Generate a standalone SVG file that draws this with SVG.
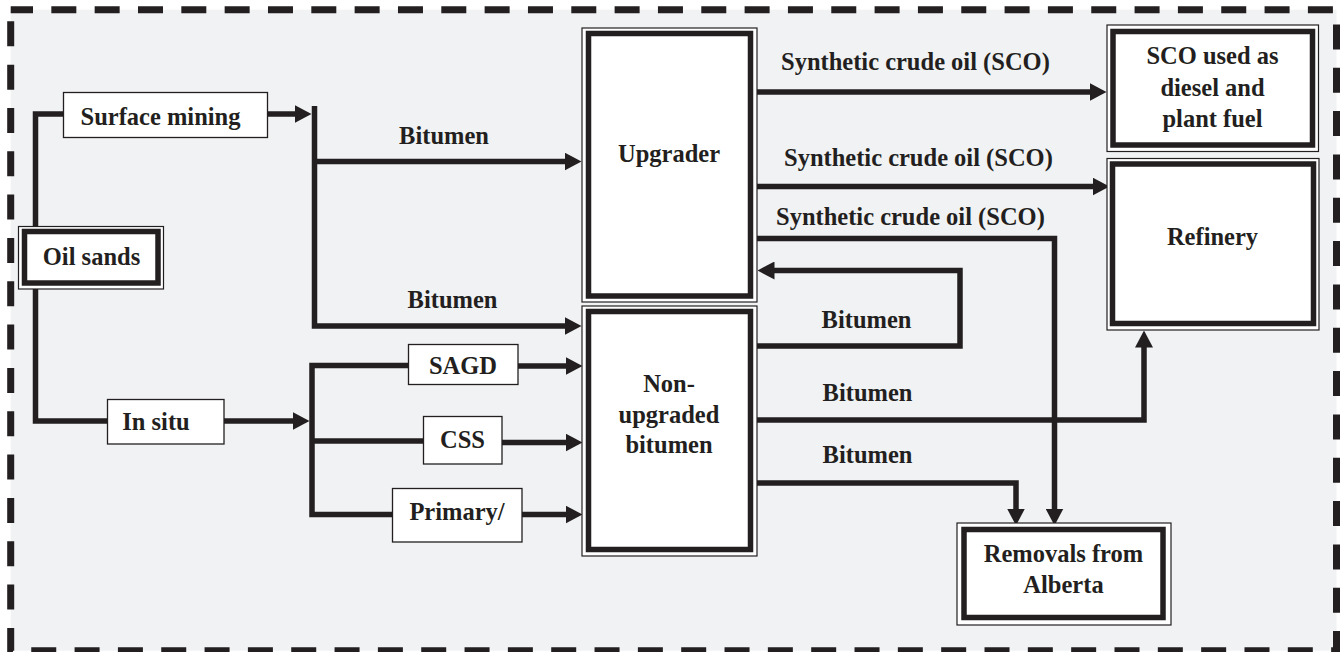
<svg xmlns="http://www.w3.org/2000/svg" width="1341" height="652" viewBox="0 0 1341 652">
<defs>
<marker id="ah" viewBox="0 0 17 18" markerWidth="17" markerHeight="18" refX="0.5" refY="9" orient="auto" markerUnits="userSpaceOnUse">
<path d="M0,0 L17,9 L0,18 z" fill="#231f20"/>
</marker>
<style>
.frame{fill:#f1f2f4;stroke:#231f20;stroke-width:7;stroke-dasharray:25 18.33;stroke-dashoffset:2.7}
.c{fill:none;stroke:#231f20;stroke-width:5.5;stroke-linejoin:miter;stroke-linecap:butt}
.a{marker-end:url(#ah)}
.box{fill:#fff;stroke:#231f20;stroke-width:1.3}
.outer{fill:#fff;stroke:#231f20;stroke-width:1.2}
.inner{fill:#fff;stroke:#231f20;stroke-width:5.5}
text{font-family:"Liberation Serif","Times New Roman",serif;font-weight:bold;font-size:24.5px;fill:#231f20}
.m{text-anchor:middle}
</style>
</defs>
<rect class="frame" x="10.7" y="9.7" width="1325.8" height="641"/>

<g id="connectors">
<path class="c" d="M63,114 H35.5 V421 H107"/>
<path class="c a" d="M268,114 H295"/>
<path class="c a" d="M314.5,106 V326 H565"/>
<path class="c a" d="M314.5,161.5 H565"/>
<path class="c a" d="M224,421 H293"/>
<path class="c" d="M408,365.5 H312 V514.5 H392"/>
<path class="c" d="M312,441 H423"/>
<path class="c a" d="M518,366 H566"/>
<path class="c a" d="M502,442.5 H566"/>
<path class="c a" d="M522,514.5 H566"/>
<path class="c a" d="M753,92 H1090"/>
<path class="c a" d="M753,186.5 H1093"/>
<path class="c a" d="M753,238.5 H1054.5 V509"/>
<path class="c a" d="M753,346 H960 V270.5 H774"/>
<path class="c a" d="M753,420 H1144 V347"/>
<path class="c a" d="M753,483 H1016 V509"/>
</g>

<g id="oil-sands">
<rect class="outer" x="18.5" y="226.5" width="145" height="62.5"/>
<rect class="inner" x="24.5" y="231.5" width="133.5" height="51.5"/>
<text class="m" x="91.5" y="265">Oil sands</text>
</g>
<g id="surface-mining">
<rect class="box" x="63.5" y="92.5" width="204" height="45"/>
<text class="m" x="160.5" y="125">Surface mining</text>
</g>
<g id="in-situ">
<rect class="box" x="107.5" y="399.5" width="116.5" height="44.5"/>
<text class="m" x="156" y="430">In situ</text>
</g>
<g id="sagd">
<rect class="box" x="408.5" y="344.5" width="109.5" height="40"/>
<text class="m" x="463" y="374">SAGD</text>
</g>
<g id="css">
<rect class="box" x="423.5" y="416.5" width="78.5" height="47.5"/>
<text class="m" x="462.5" y="448">CSS</text>
</g>
<g id="primary">
<rect class="box" x="392.5" y="488.5" width="129.5" height="53.5"/>
<text class="m" x="457" y="520">Primary/</text>
</g>
<g id="upgrader">
<rect class="outer" x="582" y="28" width="175" height="274"/>
<rect class="inner" x="588.5" y="33.5" width="162" height="262.5"/>
<text class="m" x="669" y="162">Upgrader</text>
</g>
<g id="non-upgraded">
<rect class="outer" x="582" y="306" width="175" height="250"/>
<rect class="inner" x="588.5" y="311.5" width="162" height="238"/>
<text class="m" x="669" y="392">Non-</text>
<text class="m" x="669" y="423">upgraded</text>
<text class="m" x="669" y="453">bitumen</text>
</g>
<g id="sco-fuel">
<rect class="outer" x="1107" y="25" width="211.5" height="126.5"/>
<rect class="inner" x="1113" y="31.5" width="199.5" height="113.5"/>
<text class="m" x="1212.5" y="64">SCO used as</text>
<text class="m" x="1212.5" y="96">diesel and</text>
<text class="m" x="1212.5" y="127">plant fuel</text>
</g>
<g id="refinery">
<rect class="outer" x="1107" y="158.5" width="212" height="171.5"/>
<rect class="inner" x="1112.5" y="164" width="201" height="159.5"/>
<text class="m" x="1212.5" y="245">Refinery</text>
</g>
<g id="removals">
<rect class="outer" x="957" y="523" width="214" height="102"/>
<rect class="inner" x="964" y="529.5" width="199" height="88"/>
<text class="m" x="1063.5" y="562">Removals from</text>
<text class="m" x="1063.5" y="593">Alberta</text>
</g>

<g id="labels">
<text class="m" x="444" y="144">Bitumen</text>
<text class="m" x="452.5" y="308">Bitumen</text>
<text x="781" y="70">Synthetic crude oil (SCO)</text>
<text x="784" y="166">Synthetic crude oil (SCO)</text>
<text x="776" y="225">Synthetic crude oil (SCO)</text>
<text class="m" x="866.5" y="328">Bitumen</text>
<text class="m" x="867.5" y="401">Bitumen</text>
<text class="m" x="867.5" y="463">Bitumen</text>
</g>
</svg>
